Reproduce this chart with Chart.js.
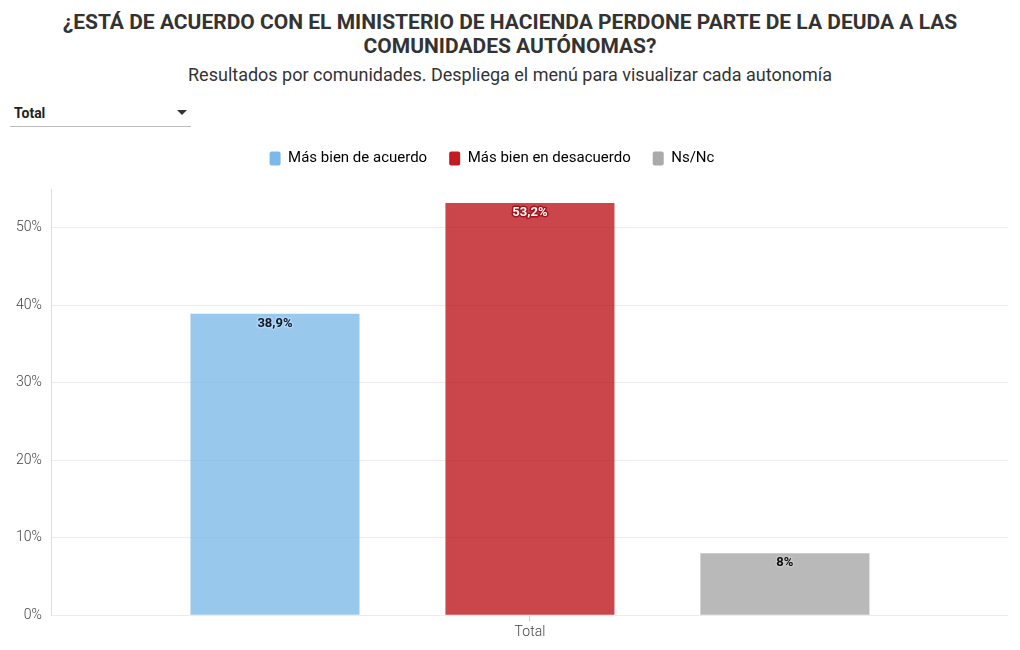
<!DOCTYPE html>
<html>
<head>
<meta charset="utf-8">
<script src="https://cdn.jsdelivr.net/npm/chart.js@4.4.1/dist/chart.umd.min.js"></script>
<style>
  html, body { margin:0; padding:0; background:#fff; width:1020px; height:650px; overflow:hidden; font-family: Roboto, "Noto Sans", sans-serif; }
  #title { position:absolute; left:0; top:10px; width:1020px; text-align:center; font-weight:700; font-size:21px; line-height:24px; color:#333; }
  #subtitle { position:absolute; left:0; top:64px; width:1020px; text-align:center; font-size:18px; color:#333; }
  #dropdown { position:absolute; left:10px; top:102px; width:181px; height:24px; border-bottom:1px solid #bbb; font-weight:700; font-size:14px; color:#222; }
  #dropdown span.lbl { position:absolute; left:4px; top:3px; }
  #dropdown span.arr { position:absolute; right:4px; top:8px; width:0; height:0; border-left:5px solid transparent; border-right:5px solid transparent; border-top:5px solid #333; }
  #wrap { position:absolute; left:0; top:129px; width:1020px; height:521px; }
</style>
</head>
<body>
<div id="title">¿ESTÁ DE ACUERDO CON EL MINISTERIO DE HACIENDA PERDONE PARTE DE LA DEUDA A LAS<br>COMUNIDADES AUTÓNOMAS?</div>
<div id="subtitle">Resultados por comunidades. Despliega el menú para visualizar cada autonomía</div>
<div id="dropdown"><span class="lbl">Total</span><span class="arr"></span></div>
<div id="wrap"><canvas id="c" width="1020" height="521"></canvas></div>
<script>
const categories = ["Total"];
const seriesNames = ["Más bien de acuerdo", "Más bien en desacuerdo", "Ns/Nc"];
const acuerdo = [38.9];
const desacuerdo = [53.2];
const nsnc = [8];
const valueLabels = [["38,9%"], ["53,2%"], ["8%"]];
const yTicks = [0, 10, 20, 30, 40, 50];

const legendColors = ["#7cb9e8", "#c41a20", "#aaaaaa"];
const barColors = ["rgba(124,185,232,0.78)", "rgba(190,24,30,0.80)", "rgba(170,170,170,0.82)"];
const labelText = ["#111827", "#ffffff", "#111111"];
const labelHalo = ["rgba(180,215,245,0.9)", "#a5141a", "rgba(200,200,200,0.9)"];

const labelPlugin = {
  id: 'barLabels',
  afterDatasetsDraw(chart) {
    const ctx = chart.ctx;
    chart.data.datasets.forEach((ds, di) => {
      const meta = chart.getDatasetMeta(di);
      meta.data.forEach((bar, i) => {
        ctx.save();
        ctx.font = "bold 13px Roboto, sans-serif";
        ctx.textAlign = "center";
        ctx.textBaseline = "middle";
        ctx.lineJoin = "round";
        ctx.lineWidth = 3;
        ctx.strokeStyle = labelHalo[di];
        ctx.strokeText(valueLabels[di][i], bar.x, bar.y + 10);
        ctx.fillStyle = labelText[di];
        ctx.fillText(valueLabels[di][i], bar.x, bar.y + 10);
        ctx.restore();
      });
    });
  }
};

const legendSpacer = {
  id: 'legendSpacer',
  beforeInit(chart) {
    const orig = chart.legend.fit;
    chart.legend.fit = function () { orig.bind(chart.legend)(); this.height += 13; };
  },
  afterLayout(chart) {
    chart.legend.left -= 15;
    chart.legend.right -= 15;
  }
};

new Chart(document.getElementById('c'), {
  type: 'bar',
  data: {
    labels: categories,
    datasets: [
      { label: seriesNames[0], data: acuerdo, backgroundColor: barColors[0] },
      { label: seriesNames[1], data: desacuerdo, backgroundColor: barColors[1] },
      { label: seriesNames[2], data: nsnc, backgroundColor: barColors[2] }
    ]
  },
  options: {
    responsive: false,
    animation: false,
    maintainAspectRatio: false,
    layout: { padding: { left: 6, right: 12, top: 0, bottom: 6 } },
    datasets: { bar: { categoryPercentage: 0.8, barPercentage: 0.663 } },
    plugins: {
      tooltip: { enabled: false },
      legend: {
        position: 'top',
        labels: {
          font: { family: 'Roboto, sans-serif', size: 15 },
          color: '#333',
          boxWidth: 11,
          boxHeight: 14,
          padding: 22,
          useBorderRadius: true,
          borderRadius: 2,
          generateLabels(chart) {
            return seriesNames.map((n, i) => ({
              text: n, fillStyle: legendColors[i], strokeStyle: legendColors[i], lineWidth: 0,
              hidden: false, datasetIndex: i, borderRadius: 2
            }));
          }
        }
      }
    },
    scales: {
      x: {
        grid: { display: true, drawOnChartArea: false, offset: false, color: '#ccc', tickLength: 6 },
        border: { display: false },
        ticks: { color: '#444', font: { family: 'Roboto, sans-serif', size: 14, weight: '300' } }
      },
      y: {
        min: 0, max: 55,
        afterBuildTicks(scale) { scale.ticks = yTicks.map(v => ({ value: v })); },
        grid: { color: '#ececec', drawTicks: false },
        border: { display: true, color: '#ddd' },
        ticks: { padding: 10, color: '#444', font: { family: 'Roboto, sans-serif', size: 14, weight: '300' }, callback: v => v + '%' }
      }
    }
  },
  plugins: [labelPlugin, legendSpacer]
});
</script>
</body>
</html>
